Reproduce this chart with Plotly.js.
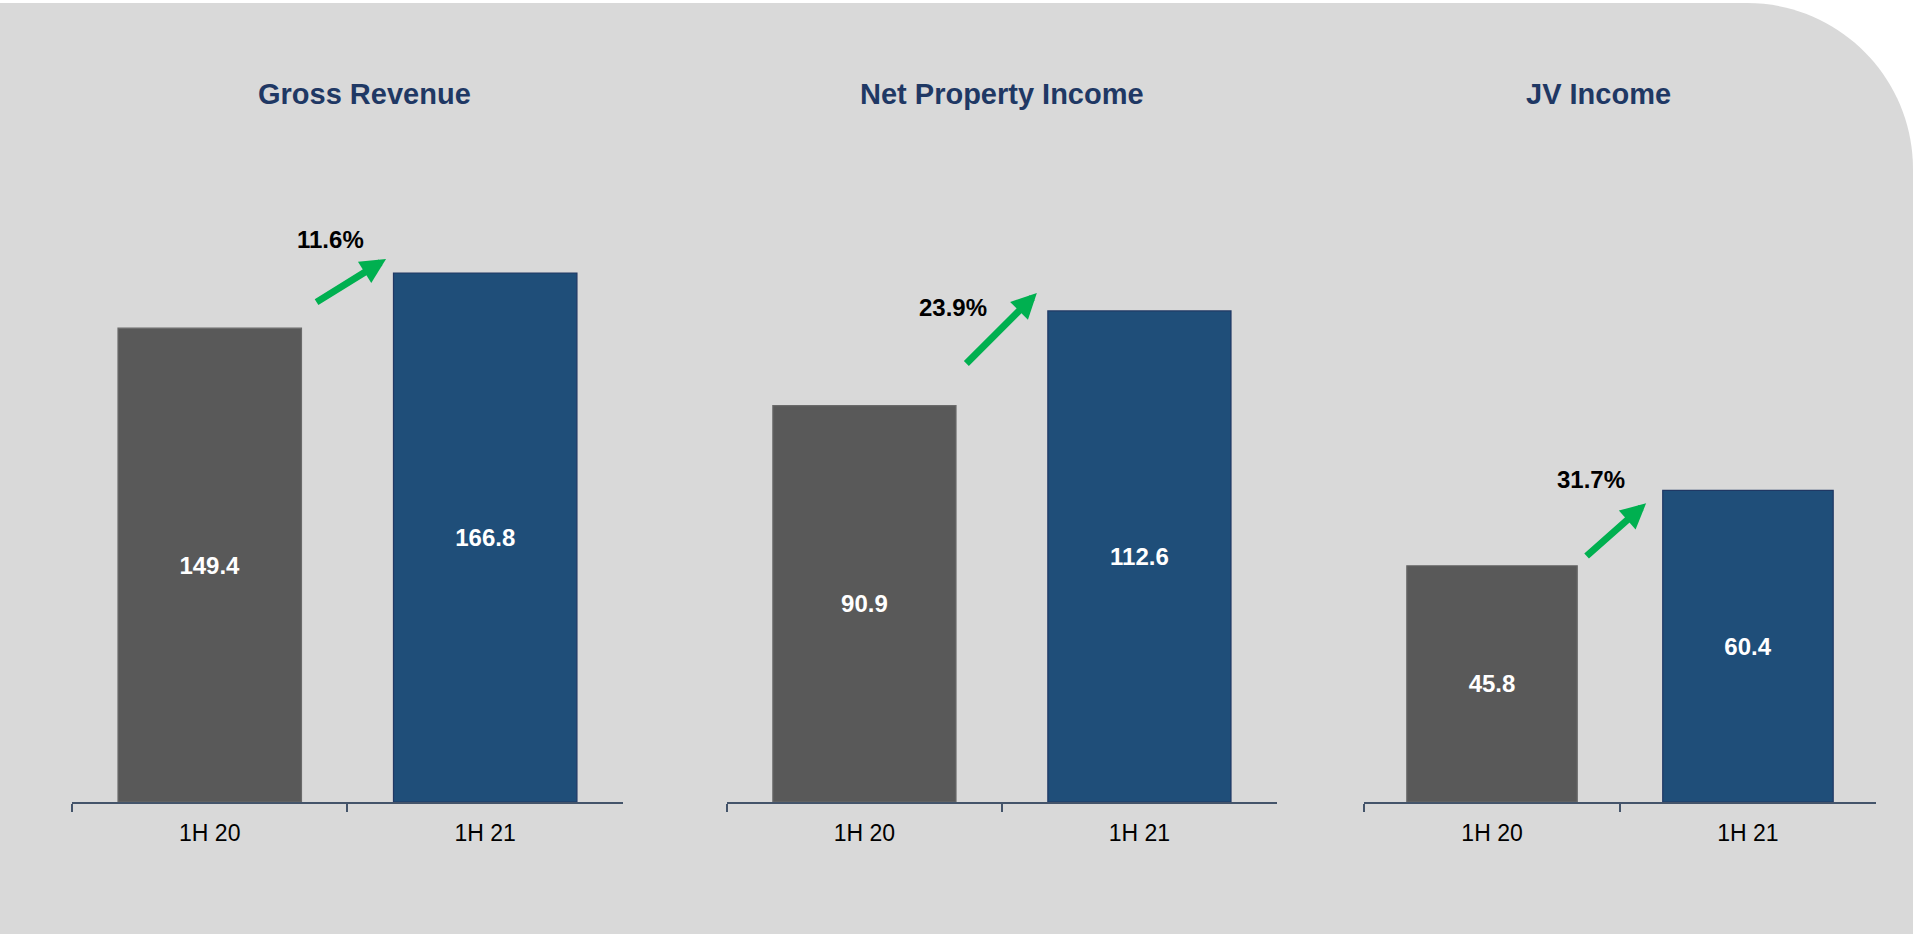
<!DOCTYPE html>
<html><head><meta charset="utf-8">
<script src="https://cdn.plot.ly/plotly-3.0.1.min.js"></script>
<style>html,body{margin:0;padding:0;background:#fff;overflow:hidden}#chart{width:1915px;height:935px}</style>
</head><body><div id="chart"></div>
<script>
// ---- data ----
const categories = ['1H 20', '1H 21'];
const panelTitles = ['Gross Revenue', 'Net Property Income', 'JV Income'];
const grossRevenue = [149.4, 166.8];
const netPropertyIncome = [90.9, 112.6];
const jvIncome = [45.8, 60.4];
const growthLabels = ['11.6%', '23.9%', '31.7%'];

// ---- styling ----
const FONT = 'Liberation Sans, Arial, sans-serif';
const barColors = ['#595959', '#1f4e79'];
const barLines = ['#6a6a6a', '#203864'];
const axisColor = '#44546a';
const series = [grossRevenue, netPropertyIncome, jvIncome];
const xDomains = [[0.0376, 0.3253], [0.3796, 0.6668], [0.7123, 0.9796]];
const yDomain = [0.14225, 0.8396];
const yMax = [205.6, 149.5, 126.4];
const titleX = [0.1903, 0.5232, 0.8345];
// growth label / arrow placement (data coords of each panel)
const labelPos = [[0.44, 177.5], [0.322, 113.3], [0.387, 62.5]];
const arrowTip = [[0.640, 171.2], [0.627, 116.7], [0.602, 57.9]];
const arrowOff = [[-71, 44], [-72, 72], [-61, 54]];

const traces = [];
const layout = {
  width: 1915, height: 935,
  margin: {l: 0, r: 0, t: 0, b: 0},
  paper_bgcolor: '#ffffff',
  plot_bgcolor: 'rgba(0,0,0,0)',
  showlegend: false,
  bargap: 0.334,
  font: {family: FONT, color: '#000'},
  annotations: [],
  shapes: []
};

series.forEach((vals, i) => {
  const sfx = i === 0 ? '' : String(i + 1);
  traces.push({
    type: 'bar',
    x: categories,
    y: vals,
    xaxis: 'x' + sfx,
    yaxis: 'y' + sfx,
    marker: {color: barColors, line: {color: barLines, width: 1.2}},
    text: vals.map(v => v.toFixed(1)),
    textposition: 'inside',
    insidetextanchor: 'middle',
    textangle: 0,
    textfont: {family: FONT, size: 24, color: '#ffffff', weight: 'bold'},
    hoverinfo: 'x+y'
  });
  layout['xaxis' + sfx] = {
    domain: xDomains[i], anchor: 'y' + sfx, type: 'category',
    range: [-0.5, 1.5], fixedrange: true,
    showline: true, linecolor: axisColor, linewidth: 1.5,
    ticks: 'outside', tickson: 'boundaries', ticklen: 8, tickwidth: 1.5, tickcolor: axisColor,
    ticklabelstandoff: 10,
    showgrid: false, zeroline: false,
    tickfont: {family: FONT, size: 23, color: '#000'}
  };
  layout['yaxis' + sfx] = {
    domain: yDomain, anchor: 'x' + sfx, range: [0, yMax[i]],
    visible: false, fixedrange: true
  };
  // panel title
  layout.annotations.push({
    xref: 'paper', yref: 'paper', x: titleX[i], y: 1 - 94 / 935,
    xanchor: 'center', yanchor: 'middle', showarrow: false,
    text: panelTitles[i],
    font: {family: FONT, size: 29, color: '#1f3864', weight: 'bold'}
  });
  // growth label
  layout.annotations.push({
    xref: 'x' + sfx, yref: 'y' + sfx, x: labelPos[i][0], y: labelPos[i][1],
    xanchor: 'center', yanchor: 'middle', showarrow: false,
    text: growthLabels[i],
    font: {family: FONT, size: 24, color: '#000', weight: 'bold'}
  });
  // growth arrow
  layout.annotations.push({
    xref: 'x' + sfx, yref: 'y' + sfx, x: arrowTip[i][0], y: arrowTip[i][1],
    ax: arrowOff[i][0], ay: arrowOff[i][1], text: '',
    showarrow: true, arrowhead: 2, arrowwidth: 7, arrowsize: 0.72,
    arrowcolor: '#00b050', standoff: 0, startstandoff: 0
  });
});

// background panel with rounded top-right corner
(function () {
  const W = 1915, H = 935, k = 0.5523;
  const x0 = 0, x1 = 1913 / W, yt = 1 - 3 / H, yb = 1 - 934 / H;
  const rx = 166 / W, ry = 166 / H;
  const path = `M ${x0},${yb} L ${x0},${yt} L ${x1 - rx},${yt} ` +
    `C ${x1 - rx + k * rx},${yt} ${x1},${yt - ry + k * ry} ${x1},${yt - ry} ` +
    `L ${x1},${yb} Z`;
  layout.shapes.push({type: 'path', xref: 'paper', yref: 'paper', path: path,
    fillcolor: '#d9d9d9', line: {width: 0}, layer: 'below'});
})();

Plotly.newPlot('chart', traces, layout, {displayModeBar: false, staticPlot: false});
</script>
</body></html>
